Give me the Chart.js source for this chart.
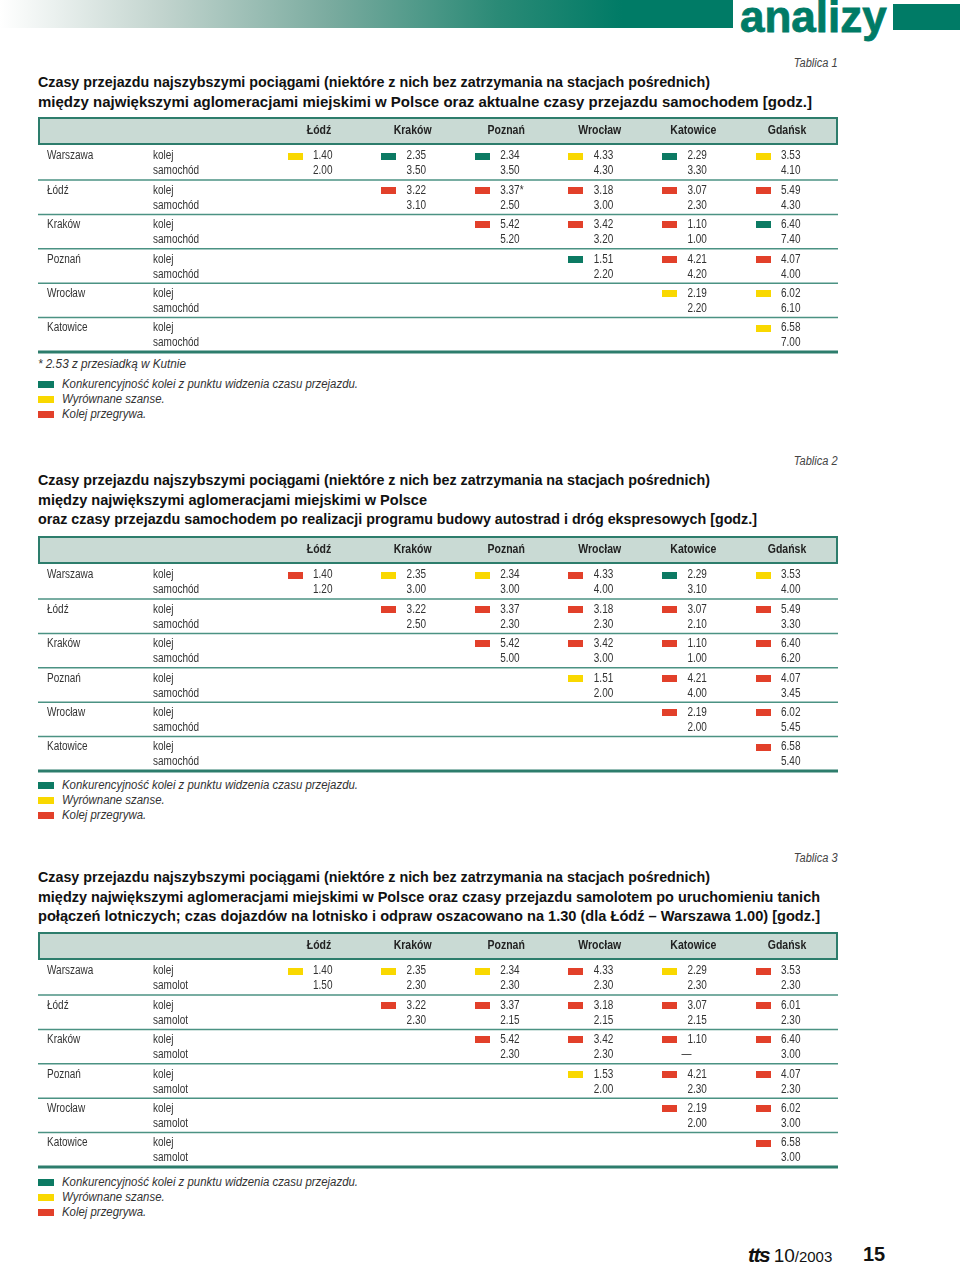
<!DOCTYPE html>
<html lang="pl">
<head>
<meta charset="utf-8">
<title>analizy - czasy przejazdu</title>
<script src="https://cdn.jsdelivr.net/npm/chart.js@4.4.0/dist/chart.umd.min.js"></script>
<style>
  body { margin: 0; background: #fff; width: 960px; height: 1263px; position: relative; overflow: hidden;
         font-family: "Liberation Sans", Arial, sans-serif; color: #333; }
  .abs { position: absolute; }
  .band { left: 0; top: 0; width: 733px; height: 28px;
          background: linear-gradient(to right, #ffffff 0%, #c2d4ce 22%, #7aab9f 45%, #2a8a76 68%, #007b66 85%, #007b66 100%); }
  .brand { left: 740px; top: -8px; font: bold 44px "Liberation Sans", Arial, sans-serif; color: #007b66;
           -webkit-text-stroke: 0.8px #007b66; }
  .block { left: 893px; top: 4px; width: 67px; height: 26px; background: #007b66; }
  .tab { right: 122px; font-style: italic; font-size: 12px; color: #444; line-height: 16px;
         transform: scaleX(0.92); transform-origin: right top; }
  .title { left: 38px; font-weight: bold; font-size: 15px; line-height: 19.7px; color: #111; white-space: nowrap; }
  .title span { display: inline-block; transform-origin: left top; }
  .note { left: 38px; font-style: italic; font-size: 12.5px; color: #333; line-height: 15px; white-space: nowrap;
          transform-origin: left top; }
  .legend { left: 38px; font-style: italic; font-size: 12.5px; color: #333; line-height: 15px; }
  .legend div { position: relative; padding-left: 24px; white-space: nowrap; }
  .legend span { display: inline-block; transform-origin: left top; }
  .legend i { position: absolute; left: 0; top: 4px; width: 16px; height: 7px; }
  canvas.tbl { position: absolute; left: 38px; }
  .foot { top: 1243px; white-space: nowrap; color: #111; }
</style>
</head>
<body>
<div class="abs band"></div>
<div class="abs brand">analizy</div>
<div class="abs block"></div>

<div class="abs tab" style="top:55px">Tablica 1</div>
<div class="abs title" style="top:72px"><span data-w="672">Czasy przejazdu najszybszymi pociągami (niektóre z nich bez zatrzymania na stacjach pośrednich)</span><br><span data-w="774">między największymi aglomeracjami miejskimi w Polsce oraz aktualne czasy przejazdu samochodem [godz.]</span></div>
<canvas class="tbl" id="t1" width="800" height="238" style="top:117px"></canvas>
<div class="abs note" style="top:357px">* 2.53 z przesiadką w Kutnie</div>
<div class="abs legend" style="top:377px">
  <div><i style="background:#0c7a63"></i><span>Konkurencyjność kolei z punktu widzenia czasu przejazdu.</span></div>
  <div><i style="background:#f9d800"></i><span>Wyrównane szanse.</span></div>
  <div><i style="background:#e2402a"></i><span>Kolej przegrywa.</span></div>
</div>

<div class="abs tab" style="top:453px">Tablica 2</div>
<div class="abs title" style="top:470px"><span data-w="672">Czasy przejazdu najszybszymi pociągami (niektóre z nich bez zatrzymania na stacjach pośrednich)</span><br><span data-w="389">między największymi aglomeracjami miejskimi w Polsce</span><br><span data-w="719">oraz czasy przejazdu samochodem po realizacji programu budowy autostrad i dróg ekspresowych [godz.]</span></div>
<canvas class="tbl" id="t2" width="800" height="238" style="top:536px"></canvas>
<div class="abs legend" style="top:778px">
  <div><i style="background:#0c7a63"></i><span>Konkurencyjność kolei z punktu widzenia czasu przejazdu.</span></div>
  <div><i style="background:#f9d800"></i><span>Wyrównane szanse.</span></div>
  <div><i style="background:#e2402a"></i><span>Kolej przegrywa.</span></div>
</div>

<div class="abs tab" style="top:850px">Tablica 3</div>
<div class="abs title" style="top:867px"><span data-w="672">Czasy przejazdu najszybszymi pociągami (niektóre z nich bez zatrzymania na stacjach pośrednich)</span><br><span data-w="782">między największymi aglomeracjami miejskimi w Polsce oraz czasy przejazdu samolotem po uruchomieniu tanich</span><br><span data-w="782">połączeń lotniczych; czas dojazdów na lotnisko i odpraw oszacowano na 1.30 (dla Łódź – Warszawa 1.00) [godz.]</span></div>
<canvas class="tbl" id="t3" width="800" height="238" style="top:932px"></canvas>
<div class="abs legend" style="top:1175px">
  <div><i style="background:#0c7a63"></i><span>Konkurencyjność kolei z punktu widzenia czasu przejazdu.</span></div>
  <div><i style="background:#f9d800"></i><span>Wyrównane szanse.</span></div>
  <div><i style="background:#e2402a"></i><span>Kolej przegrywa.</span></div>
</div>

<div class="abs foot" style="left:748px"><b style="font:italic 900 21px 'Liberation Sans', Arial, sans-serif;letter-spacing:-1.5px">tts</b> <span style="font:19px 'Liberation Sans', Arial, sans-serif">10</span><span style="font:15px 'Liberation Sans', Arial, sans-serif">/2003</span></div>
<div class="abs foot" style="left:863px;font:bold 20px 'Liberation Sans', Arial, sans-serif">15</div>

<script>
// columns (destinations) and rows (origins)
const destinations = ["Łódź", "Kraków", "Poznań", "Wrocław", "Katowice", "Gdańsk"];
const origins = ["Warszawa", "Łódź", "Kraków", "Poznań", "Wrocław", "Katowice"];

// Tablica 1 - kolej / samochód (aktualnie)
const rail1 = [
  ["1.40", "2.35", "2.34", "4.33", "2.29", "3.53"],
  [null, "3.22", "3.37*", "3.18", "3.07", "5.49"],
  [null, null, "5.42", "3.42", "1.10", "6.40"],
  [null, null, null, "1.51", "4.21", "4.07"],
  [null, null, null, null, "2.19", "6.02"],
  [null, null, null, null, null, "6.58"]
];
const car1 = [
  ["2.00", "3.50", "3.50", "4.30", "3.30", "4.10"],
  [null, "3.10", "2.50", "3.00", "2.30", "4.30"],
  [null, null, "5.20", "3.20", "1.00", "7.40"],
  [null, null, null, "2.20", "4.20", "4.00"],
  [null, null, null, null, "2.20", "6.10"],
  [null, null, null, null, null, "7.00"]
];
const rating1 = [
  ["Y", "G", "G", "Y", "G", "Y"],
  [null, "R", "R", "R", "R", "R"],
  [null, null, "R", "R", "R", "G"],
  [null, null, null, "G", "R", "R"],
  [null, null, null, null, "Y", "Y"],
  [null, null, null, null, null, "Y"]
];

// Tablica 2 - kolej / samochód po budowie autostrad
const rail2 = [
  ["1.40", "2.35", "2.34", "4.33", "2.29", "3.53"],
  [null, "3.22", "3.37", "3.18", "3.07", "5.49"],
  [null, null, "5.42", "3.42", "1.10", "6.40"],
  [null, null, null, "1.51", "4.21", "4.07"],
  [null, null, null, null, "2.19", "6.02"],
  [null, null, null, null, null, "6.58"]
];
const car2 = [
  ["1.20", "3.00", "3.00", "4.00", "3.10", "4.00"],
  [null, "2.50", "2.30", "2.30", "2.10", "3.30"],
  [null, null, "5.00", "3.00", "1.00", "6.20"],
  [null, null, null, "2.00", "4.00", "3.45"],
  [null, null, null, null, "2.00", "5.45"],
  [null, null, null, null, null, "5.40"]
];
const rating2 = [
  ["R", "Y", "Y", "R", "G", "Y"],
  [null, "R", "R", "R", "R", "R"],
  [null, null, "R", "R", "R", "R"],
  [null, null, null, "Y", "R", "R"],
  [null, null, null, null, "R", "R"],
  [null, null, null, null, null, "R"]
];

// Tablica 3 - kolej / samolot
const rail3 = [
  ["1.40", "2.35", "2.34", "4.33", "2.29", "3.53"],
  [null, "3.22", "3.37", "3.18", "3.07", "6.01"],
  [null, null, "5.42", "3.42", "1.10", "6.40"],
  [null, null, null, "1.53", "4.21", "4.07"],
  [null, null, null, null, "2.19", "6.02"],
  [null, null, null, null, null, "6.58"]
];
const plane3 = [
  ["1.50", "2.30", "2.30", "2.30", "2.30", "2.30"],
  [null, "2.30", "2.15", "2.15", "2.15", "2.30"],
  [null, null, "2.30", "2.30", "—", "3.00"],
  [null, null, null, "2.00", "2.30", "2.30"],
  [null, null, null, null, "2.00", "3.00"],
  [null, null, null, null, null, "3.00"]
];
const rating3 = [
  ["Y", "Y", "Y", "R", "Y", "R"],
  [null, "R", "R", "R", "R", "R"],
  [null, null, "R", "R", "R", "R"],
  [null, null, null, "Y", "R", "R"],
  [null, null, null, null, "R", "R"],
  [null, null, null, null, null, "R"]
];

const markerColors = { G: "#0c7a63", Y: "#f9d800", R: "#e2402a" };
const teal = "#2d7d6c";
const bodyFont = "12.5px 'Liberation Sans', Arial, sans-serif";
const headFont = "bold 12.5px 'Liberation Sans', Arial, sans-serif";
const squeeze = 0.8;

// squeeze the html texts so they look like the condensed original face
document.querySelectorAll(".title span").forEach(s => {
  const w = s.getBoundingClientRect().width;
  s.style.transform = `scaleX(${s.dataset.w / w})`;
});
const note = document.querySelector(".note");
note.style.transform = `scaleX(${148 / note.getBoundingClientRect().width})`;
const legendScale = 296 / document.querySelector(".legend span").getBoundingClientRect().width;
document.querySelectorAll(".legend span").forEach(s => s.style.transform = `scaleX(${legendScale})`);

function markerImage(color) {
  const c = document.createElement("canvas");
  c.width = 15;
  c.height = 7;
  const ctx = c.getContext("2d");
  ctx.fillStyle = color;
  ctx.fillRect(0, 0, 15, 7);
  return c;
}

function squeezedText(ctx, text, x, y, align, sx) {
  ctx.save();
  ctx.translate(x, y);
  ctx.scale(sx || squeeze, 1);
  ctx.textAlign = align;
  ctx.fillText(text, 0, 0);
  ctx.restore();
}

// header band, row labels, grid lines and numbers, all placed through the chart scales
const tablePlugin = {
  id: "tableText",
  beforeDatasetsDraw(chart, args, opts) {
    const ctx = chart.ctx;
    const x = chart.scales.x;
    const y = chart.scales.y;
    const area = chart.chartArea;
    const headY = y.getPixelForValue(0) - 25;
    ctx.save();
    ctx.fillStyle = "#c9dad4";
    ctx.fillRect(area.left + 1, headY - 13, area.width - 2, 26);
    ctx.strokeStyle = teal;
    ctx.lineWidth = 2;
    ctx.strokeRect(area.left + 1, headY - 13, area.width - 2, 26);
    ctx.font = headFont;
    ctx.fillStyle = "#222";
    ctx.textBaseline = "middle";
    destinations.forEach((d, c) => squeezedText(ctx, d, x.getPixelForValue(c) + 24, headY, "center", 0.84));

    origins.forEach((o, r) => {
      const py = y.getPixelForValue(r);
      const last = r === origins.length - 1;
      ctx.strokeStyle = last ? teal : "#4b9283";
      ctx.lineWidth = last ? 3 : 1.5;
      ctx.beginPath();
      ctx.moveTo(area.left, py + 24);
      ctx.lineTo(area.right, py + 24);
      ctx.stroke();
    });
    ctx.restore();
  },
  afterDatasetsDraw(chart, args, opts) {
    const ctx = chart.ctx;
    const x = chart.scales.x;
    const y = chart.scales.y;
    const area = chart.chartArea;
    ctx.save();
    ctx.font = bodyFont;
    ctx.fillStyle = "#333";
    ctx.textBaseline = "middle";
    origins.forEach((o, r) => {
      const py = y.getPixelForValue(r);
      squeezedText(ctx, o, area.left + 9, py, "left");
      squeezedText(ctx, "kolej", area.left + 115, py, "left");
      squeezedText(ctx, opts.otherLabel, area.left + 115, py + 15, "left");
      opts.rail[r].forEach((v, c) => {
        if (v === null) return;
        const px = x.getPixelForValue(c) + 18;
        squeezedText(ctx, v, px, py, "left");
        const w = opts.other[r][c];
        squeezedText(ctx, w, w === "—" ? px - 6 : px, py + 15, "left");
      });
    });
    ctx.restore();
  }
};

function buildTable(id, rail, other, rating, otherLabel) {
  const datasets = Object.keys(markerColors).map(key => {
    const pts = [];
    rating.forEach((row, r) => row.forEach((v, c) => {
      if (v === key) pts.push({ x: c, y: r });
    }));
    return {
      label: key,
      data: pts,
      pointStyle: markerImage(markerColors[key]),
      pointRadius: 3,
      backgroundColor: markerColors[key]
    };
  });
  return new Chart(document.getElementById(id), {
    type: "scatter",
    data: { datasets },
    options: {
      responsive: false,
      animation: false,
      events: [],
      layout: { padding: 0, autoPadding: false },
      scales: {
        x: { type: "linear", min: -257 / 93.6, max: 543 / 93.6, display: false },
        y: { type: "linear", min: -39 / 34.4, max: 199 / 34.4, reverse: true, display: false }
      },
      plugins: {
        legend: { display: false },
        tooltip: { enabled: false },
        tableText: { rail, other, otherLabel }
      }
    },
    plugins: [tablePlugin]
  });
}

buildTable("t1", rail1, car1, rating1, "samochód");
buildTable("t2", rail2, car2, rating2, "samochód");
buildTable("t3", rail3, plane3, rating3, "samolot");
</script>
</body>
</html>
